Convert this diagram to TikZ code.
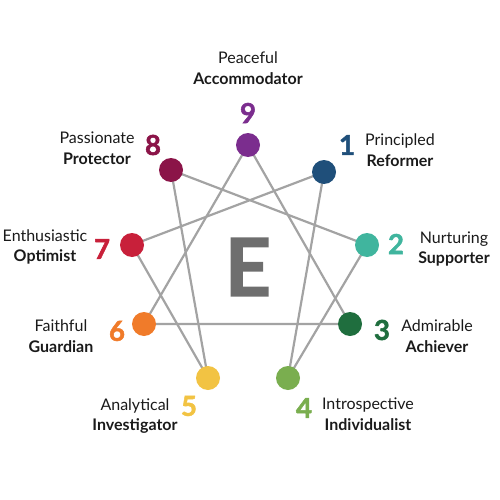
\documentclass[tikz,border=0pt]{standalone}
\usepackage{fontspec}
\setmainfont{Lato}
\newfontfamily\numfont{Lato}[BoldFeatures={FakeBold=1.8}]
\usetikzlibrary{backgrounds}
\definecolor{c9}{HTML}{7B2D8E}
\definecolor{c8}{HTML}{8B1448}
\definecolor{c7}{HTML}{C8203A}
\definecolor{c6}{HTML}{F07B2A}
\definecolor{c5}{HTML}{F2C343}
\definecolor{c4}{HTML}{7AAE4F}
\definecolor{c3}{HTML}{1F6E3E}
\definecolor{c2}{HTML}{40B59E}
\definecolor{c1}{HTML}{1F4F7A}
\definecolor{linegray}{HTML}{A3A3A3}
\definecolor{egray}{HTML}{6E6E6E}
\definecolor{txt}{HTML}{1A1A1A}
\tikzset{
  dot/.style={circle,fill=#1,minimum size=24pt,inner sep=0pt},
  num/.style={text=#1,font=\fontsize{27.5}{27.5}\selectfont\numfont\bfseries,inner sep=0pt},
  lbl/.style={text=txt,align=center,font=\fontsize{16}{20.5}\selectfont,inner sep=0pt},
  link/.style={draw=linegray,line width=2.2pt}
}
\begin{document}
\begin{tikzpicture}[x=1pt,y=-1pt]
\useasboundingbox (0,0) rectangle (500,500);
\node[dot=c9] (n9) at (248,145) {};
\node[dot=c1] (n1) at (324,172) {};
\node[dot=c2] (n2) at (367,245) {};
\node[dot=c3] (n3) at (350,324) {};
\node[dot=c4] (n4) at (288,378) {};
\node[dot=c5] (n5) at (208,378) {};
\node[dot=c6] (n6) at (144,324) {};
\node[dot=c7] (n7) at (132,245) {};
\node[dot=c8] (n8) at (171,170) {};
\begin{scope}[on background layer]
\draw[link] (n9.center) -- (n3.center) -- (n6.center) -- (n9.center);
\draw[link] (n1.center) -- (n4.center) -- (n2.center) -- (n8.center) -- (n5.center) -- (n7.center) -- (n1.center);
\end{scope}
\node[text=egray,font=\fontsize{80}{80}\selectfont\numfont\bfseries,inner sep=0pt] (E) at (248,267) {E};
\node[num=c9] (k9) at (248,113) {9};
\node[num=c1] (k1) at (347,145) {1};
\node[num=c2] (k2) at (396,244) {2};
\node[num=c3] (k3) at (382,330) {3};
\node[num=c4] (k4) at (304,408) {4};
\node[num=c5] (k5) at (189,406) {5};
\node[num=c6] (k6) at (117,331) {6};
\node[num=c7] (k7) at (102,249) {7};
\node[num=c8] (k8) at (153,145) {8};
\node[lbl] (t9) at (248,68) {Peaceful\\\textbf{Accommodator}};
\node[lbl] (t1) at (400,150) {Principled\\\textbf{Reformer}};
\node[lbl] (t2) at (454,249) {Nurturing\\\textbf{Supporter}};
\node[lbl] (t3) at (437,336) {Admirable\\\textbf{Achiever}};
\node[lbl] (t4) at (368,414) {Introspective\\\textbf{Individualist}};
\node[lbl] (t5) at (135,416) {Analytical\\\textbf{Investigator}};
\node[lbl] (t6) at (61,336) {Faithful\\\textbf{Guardian}};
\node[lbl] (t7) at (45,247) {Enthusiastic\\\textbf{Optimist}};
\node[lbl] (t8) at (97,148) {Passionate\\\textbf{Protector}};
\end{tikzpicture}
\end{document}
